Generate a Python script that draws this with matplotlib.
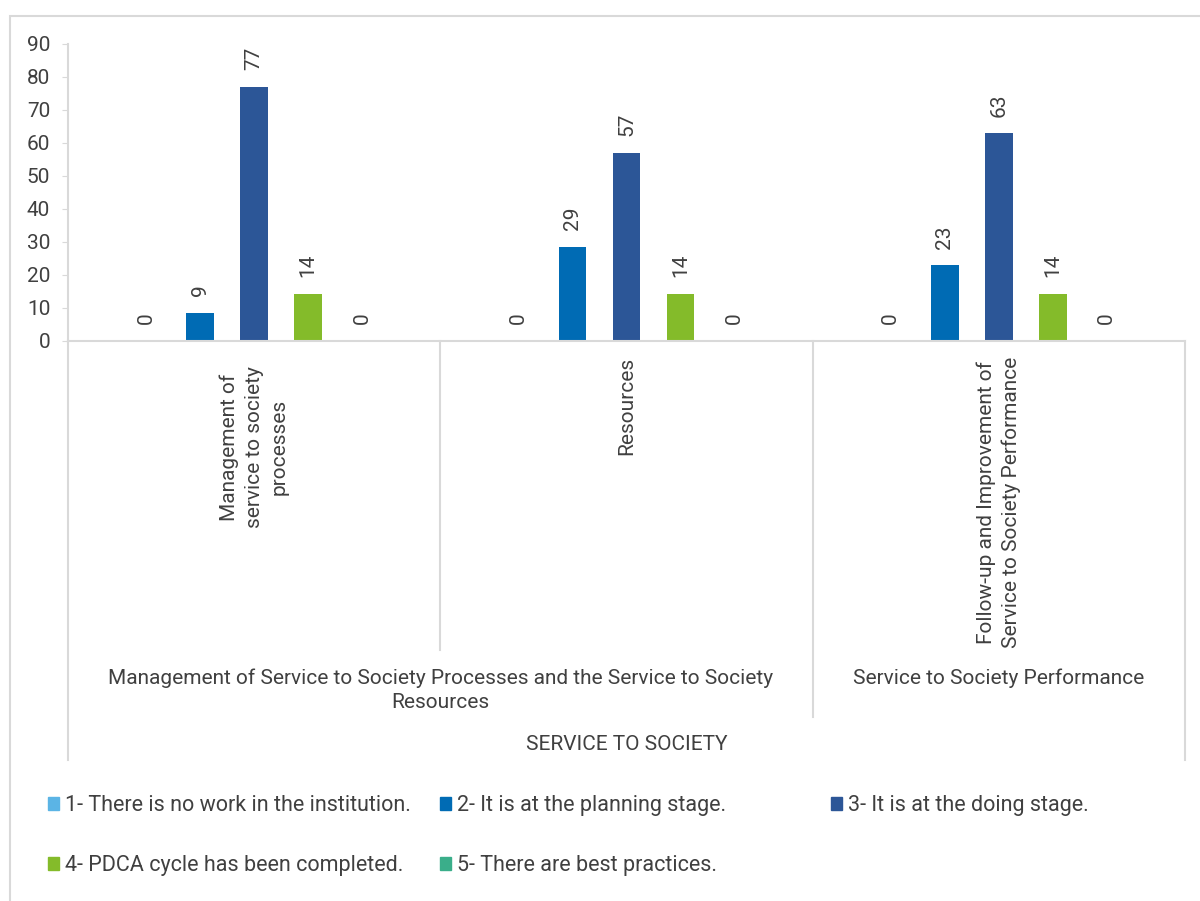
import matplotlib
matplotlib.use("Agg")
import matplotlib.pyplot as plt
from matplotlib.patches import Rectangle, Patch
import numpy as np

FS = 15
plt.rcParams['font.family'] = ['Roboto', 'DejaVu Sans']
plt.rcParams['font.size'] = FS
plt.rcParams['text.color'] = '#404040'
plt.rcParams['axes.labelcolor'] = '#404040'
plt.rcParams['xtick.color'] = '#404040'
plt.rcParams['ytick.color'] = '#404040'

# data
categories = ["Management of\nservice to society\nprocesses",
              "Resources",
              "Follow-up and Improvement of\nService to Society Performance"]
groups = ["Management of Service to Society Processes and the Service to Society\nResources",
          "Service to Society Performance"]
top_label = "SERVICE TO SOCIETY"
series_names = ["1- There is no work in the institution.",
                "2- It is at the planning stage.",
                "3- It is at the doing stage.",
                "4- PDCA cycle has been completed.",
                "5- There are best practices."]
s1 = [0, 0, 0]
s2 = [8.6, 28.6, 22.9]
s3 = [77.1, 57.1, 62.9]
s4 = [14.3, 14.3, 14.3]
s5 = [0, 0, 0]
series = [s1, s2, s3, s4, s5]
colors = ['#5BB4E5', '#006BB4', '#2C5697', '#84BB2A', '#3AAE8A']
grid_col = '#D9D9D9'

fig = plt.figure(figsize=(12, 9.01), dpi=100)
ax = fig.add_axes([68/1200, 1-341/901, 1117/1200, 297/901])

x = np.arange(len(categories))
step = 0.145
width = 0.075
for i, vals in enumerate(series):
    bars = ax.bar(x + (i-2)*step, vals, width, color=colors[i], label=series_names[i])
    ax.bar_label(bars, labels=[f"{v:.0f}" for v in vals], rotation=90, padding=12,
                 fontsize=FS, color='#404040')

ax.set_xlim(-0.5, 2.5)
ax.set_ylim(0, 90)
ax.set_yticks(np.arange(0, 91, 10))
ax.set_xticks([])
ax.tick_params(axis='y', length=4.3, color=grid_col, pad=8.5, labelsize=FS)
for sp in ['top', 'right']:
    ax.spines[sp].set_visible(False)
ax.spines['left'].set_color(grid_col)
ax.spines['bottom'].set_color(grid_col)
ax.spines['left'].set_linewidth(1.5)
ax.spines['bottom'].set_linewidth(1.5)

# category separators below the axis
tr = ax.get_xaxis_transform()
sep_bottom = {-0.5: -1.411, 0.5: -1.040, 1.5: -1.266, 2.5: -1.411}
for xs, yb in sep_bottom.items():
    ax.plot([xs, xs], [0, yb], transform=tr, color=grid_col, lw=1.5, clip_on=False)

# category labels
label_tops = [-0.085, -0.054, -0.054]
for xi, lab, yt in zip(x, categories, label_tops):
    ax.text(xi, yt, lab, transform=tr, rotation=90, ha='center', va='top',
            multialignment='center', fontsize=FS, linespacing=1.38)

# group labels
ax.text(0.5, -1.101, groups[0], transform=tr, ha='center', va='top',
        multialignment='center', fontsize=FS, linespacing=1.38)
ax.text(2.0, -1.101, groups[1], transform=tr, ha='center', va='top', fontsize=FS)
ax.text(1.0, -1.357, top_label, transform=tr, ha='center', va='center', fontsize=FS)

# legend, laid out row-wise in three columns
handles = [Patch(color=c) for c in colors]
legend_cols = [[0, 3], [1, 4], [2]]
col_x = [48, 440, 831]
LFS = 15.5
for col, xpx in zip(legend_cols, col_x):
    fig.legend([handles[k] for k in col], [series_names[k] for k in col],
               loc='upper left', bbox_to_anchor=(xpx/1200, 1-795/901),
               frameon=False, fontsize=LFS, handlelength=0.51, handleheight=0.56,
               handletextpad=0.28, labelspacing=1.81, borderpad=0, borderaxespad=0)

# outer frame
fig.add_artist(Rectangle((10/1200, -0.1), 1.2, 1.1 - 16/901, transform=fig.transFigure,
                         fill=False, edgecolor=grid_col, lw=1.5))

fig.savefig('out.png', dpi=100, facecolor='white')
